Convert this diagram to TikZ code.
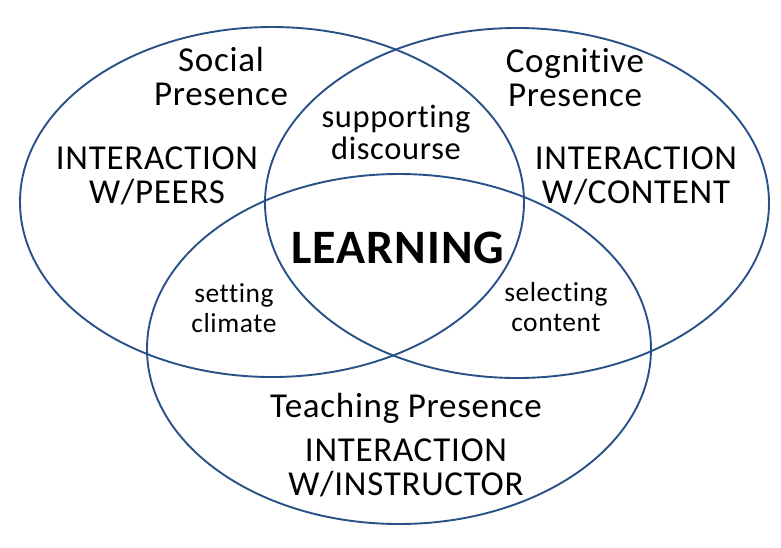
\documentclass[tikz,border=0pt]{standalone}
\usepackage{fontspec}
\setmainfont{Carlito}
\newfontfamily\lblfont[LetterSpace=2,RawFeature={-liga}]{Carlito}
\definecolor{ringblue}{RGB}{40,82,135}
\tikzset{
  ring/.style={draw=ringblue, line width=1.9pt},
  biglabel/.style={font=\lblfont\fontsize{35}{34}\selectfont, align=center, inner sep=0pt},
  midlabel/.style={font=\lblfont\fontsize{32.5}{32}\selectfont, align=center, inner sep=0pt},
  smalllabel/.style={font=\lblfont\fontsize{27.5}{30}\selectfont, align=center, inner sep=0pt},
  corelabel/.style={font=\lblfont\bfseries\fontsize{48}{48}\selectfont, inner sep=0pt},
}
\begin{document}
\begin{tikzpicture}[x=1pt,y=-1pt]
\useasboundingbox (0,0) rectangle (781,547);
\draw[ring] (272,202) ellipse [x radius=252, y radius=175];
\draw[ring] (517,203) ellipse [x radius=252, y radius=175];
\draw[ring] (399,349) ellipse [x radius=252, y radius=175];
\node[biglabel] (social) at (221,76) {Social\\Presence};
\node[biglabel] (peers) at (157,176) {INTERACTION\\W/PEERS};
\node[midlabel] (discourse) at (396,132) {supporting\\discourse};
\node[biglabel] (cognitive) at (575,78) {Cognitive\\Presence};
\node[biglabel] (content) at (636,176) {INTERACTION\\W/CONTENT};
\node[corelabel, anchor=base] (learning) at (398,263) {LEARNING};
\node[smalllabel] (climate) at (234,308) {setting\\climate};
\node[smalllabel] (selecting) at (556,307) {selecting\\content};
\node[biglabel, anchor=base] (teaching) at (406,417) {Teaching Presence};
\node[biglabel] (instructor) at (406,468) {INTERACTION\\W/INSTRUCTOR};
\end{tikzpicture}
\end{document}
